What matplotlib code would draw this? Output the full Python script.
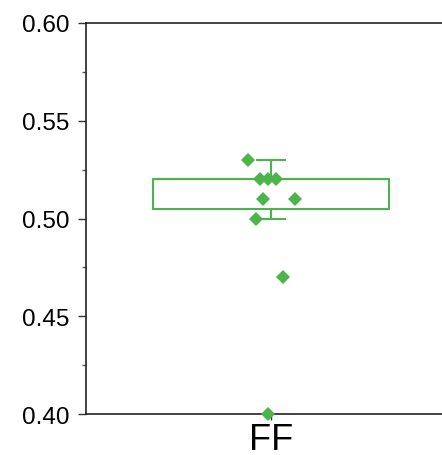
import numpy as np
import matplotlib.pyplot as plt
from matplotlib.ticker import MultipleLocator

plt.rcParams['font.family'] = ['Liberation Sans', 'DejaVu Sans']

category = "FF"
values = [0.53, 0.52, 0.52, 0.52, 0.51, 0.51, 0.50, 0.47, 0.40]
jitter = [-0.063, -0.030, -0.008, 0.013, -0.022, 0.066, -0.041, 0.033, -0.008]
box_q1, box_q3 = 0.505, 0.52
whisk_lo, whisk_hi = 0.50, 0.53
green = '#4bb44a'

fig = plt.figure(figsize=(4.42, 4.56), dpi=100)
ax = fig.add_axes([86/442, 41/456, 370/442, 391/456])

# box drawn from quartiles / whiskers
ax.bxp([{'med': box_q3, 'q1': box_q1, 'q3': box_q3,
         'whislo': whisk_lo, 'whishi': whisk_hi, 'fliers': []}],
       positions=[0], widths=0.64, showfliers=False,
       boxprops=dict(color=green, linewidth=1.5),
       medianprops=dict(color=green, linewidth=1.5),
       whiskerprops=dict(color=green, linewidth=1.5),
       capprops=dict(color=green, linewidth=1.5),
       capwidths=0.076)

ax.plot(np.array(jitter), values, 'D', color=green, markersize=7.5,
        markeredgewidth=0, clip_on=False, zorder=3)

ax.set_xlim(-0.5, 0.5)
ax.set_ylim(0.40, 0.60)
ax.set_xticks([0])
ax.set_xticklabels([category], fontsize=26)
ax.yaxis.set_major_locator(MultipleLocator(0.05))
ax.yaxis.set_minor_locator(MultipleLocator(0.025))
ax.set_yticklabels(['%.2f' % v for v in ax.get_yticks()], fontsize=17.5)
ax.tick_params(axis='y', which='major', length=6, width=1, pad=6, color='#333333')
ax.tick_params(axis='y', which='minor', length=3, width=1, color='#555555')
ax.tick_params(axis='x', length=4, width=1, pad=1.5, color='#333333')
ax.spines['right'].set_visible(False)
for s in ['left', 'top', 'bottom']:
    ax.spines[s].set_color('#222222')
    ax.spines[s].set_linewidth(1.2)

fig.savefig('out.png', dpi=100)
